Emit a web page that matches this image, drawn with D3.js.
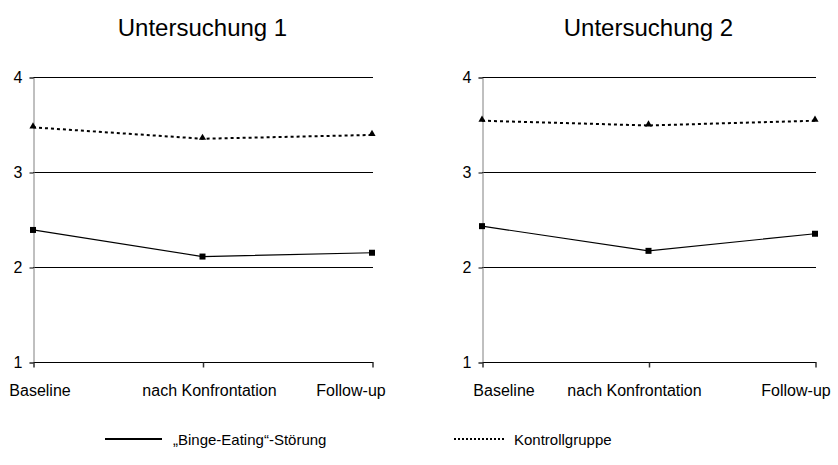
<!DOCTYPE html>
<html lang="de">
  <head>
    <meta charset="utf-8">
    <title>Untersuchung 1 und 2</title>
    <script src="https://d3js.org/d3.v7.min.js"></script>
    <style>
      body { margin: 0; background: #fff; }
      text { font-family: "Liberation Sans", Arial, sans-serif; fill: #000; }
    </style>
  </head>
  <body>
    <svg width="838" height="465"></svg>

    <script>
      // Messzeitpunkte und Mittelwerte je Untersuchung
      var zeitpunkte = ["Baseline", "nach Konfrontation", "Follow-up"];
      var titel = ["Untersuchung 1", "Untersuchung 2"];
      var yTicks = [1, 2, 3, 4];

      var bed1 = [2.39, 2.11, 2.15];
      var kontroll1 = [3.47, 3.35, 3.39];
      var bed2 = [2.43, 2.17, 2.35];
      var kontroll2 = [3.54, 3.49, 3.54];

      var gruppen = ["\u201EBinge-Eating\u201C-Störung", "Kontrollgruppe"];

      var svg = d3.select("svg");

      // Beschriftungen wie im Original leicht nach innen geschoben
      var panels = [
        {title: titel[0], left: 33, right: 372, bed: bed1, kon: kontroll1, shift: [6, 6, -22]},
        {title: titel[1], left: 482, right: 815, bed: bed2, kon: kontroll2, shift: [21, -15, -20]}
      ];

      var y = d3.scaleLinear().domain([1, 4]).range([362, 77]);

      panels.forEach(function(p) {
        var g = svg.append("g");
        var x = d3.scalePoint().domain(zeitpunkte).range([p.left, p.right]);

        // Titel
        g.append("text")
          .attr("x", (p.left + p.right) / 2)
          .attr("y", 36)
          .attr("text-anchor", "middle")
          .style("font-size", "24px")
          .text(p.title);

        // Gitterlinien
        g.selectAll("line.grid")
          .data(yTicks.slice(1))
          .enter().append("line")
          .attr("x1", p.left).attr("x2", p.right + 1)
          .attr("y1", function(d){ return Math.round(y(d)) + 0.5; })
          .attr("y2", function(d){ return Math.round(y(d)) + 0.5; })
          .attr("stroke", "#000");

        // y-Achse
        var yAxis = d3.axisLeft(y).tickValues(yTicks).tickSize(4).tickPadding(7)
          .tickFormat(d3.format("d"));
        var ya = g.append("g")
          .attr("transform", "translate(" + (p.left + 0.5) + ",0.5)")
          .call(yAxis);
        ya.select(".domain").attr("stroke", "#808080");
        ya.selectAll(".tick line").attr("stroke", "#000");
        ya.selectAll("text").style("font-size", "16px")
          .style("font-family", "Liberation Sans, Arial, sans-serif");

        // x-Achse
        var xAxis = d3.axisBottom(x).tickSize(5).tickSizeOuter(0).tickPadding(17);
        var xa = g.append("g")
          .attr("transform", "translate(0.5," + (Math.round(y(1)) + 0.5) + ")")
          .call(xAxis);
        xa.select(".domain").attr("stroke", "#000").attr("d", "M" + p.left + ",0H" + (p.right + 1));
        xa.selectAll(".tick line").attr("stroke", "#333").attr("stroke-width", 1.5);
        xa.selectAll("text")
          .attr("dx", function(d, i){ return p.shift[i]; })
          .style("font-size", "16px")
          .style("font-family", "Liberation Sans, Arial, sans-serif");

        var line = d3.line()
          .x(function(d, i){ return x(zeitpunkte[i]); })
          .y(function(d){ return y(d); });

        // Kontrollgruppe: gepunktet, Dreiecke
        g.append("path")
          .datum(p.kon)
          .attr("d", line)
          .attr("fill", "none")
          .attr("stroke", "#000")
          .attr("stroke-width", 2)
          .attr("stroke-dasharray", "3,3");
        g.selectAll("path.tri")
          .data(p.kon)
          .enter().append("path")
          .attr("d", d3.symbol().type(d3.symbolTriangle).size(22))
          .attr("transform", function(d, i){ return "translate(" + x(zeitpunkte[i]) + "," + (y(d) - 1) + ")"; })
          .attr("fill", "#000");

        // Binge-Eating: durchgezogen, Quadrate
        g.append("path")
          .datum(p.bed)
          .attr("d", line)
          .attr("fill", "none")
          .attr("stroke", "#000")
          .attr("stroke-width", 1.2);
        g.selectAll("rect.sq")
          .data(p.bed)
          .enter().append("rect")
          .attr("x", function(d, i){ return x(zeitpunkte[i]) - 3; })
          .attr("y", function(d){ return y(d) - 3; })
          .attr("width", 6).attr("height", 6)
          .attr("fill", "#000");
      });

      // Legende
      var legende = [
        {label: gruppen[0], x1: 105, x2: 162, tx: 173, dash: null, w: 2.2},
        {label: gruppen[1], x1: 454, x2: 504, tx: 514, dash: "2,2", w: 2}
      ];
      var lg = svg.append("g");
      legende.forEach(function(l) {
        lg.append("line")
          .attr("x1", l.x1).attr("x2", l.x2)
          .attr("y1", 439).attr("y2", 439)
          .attr("stroke", "#000")
          .attr("stroke-width", l.w)
          .attr("stroke-dasharray", l.dash);
        lg.append("text")
          .attr("x", l.tx).attr("y", 445)
          .style("font-size", "15px")
          .text(l.label);
      });
    </script>
  </body>
</html>
